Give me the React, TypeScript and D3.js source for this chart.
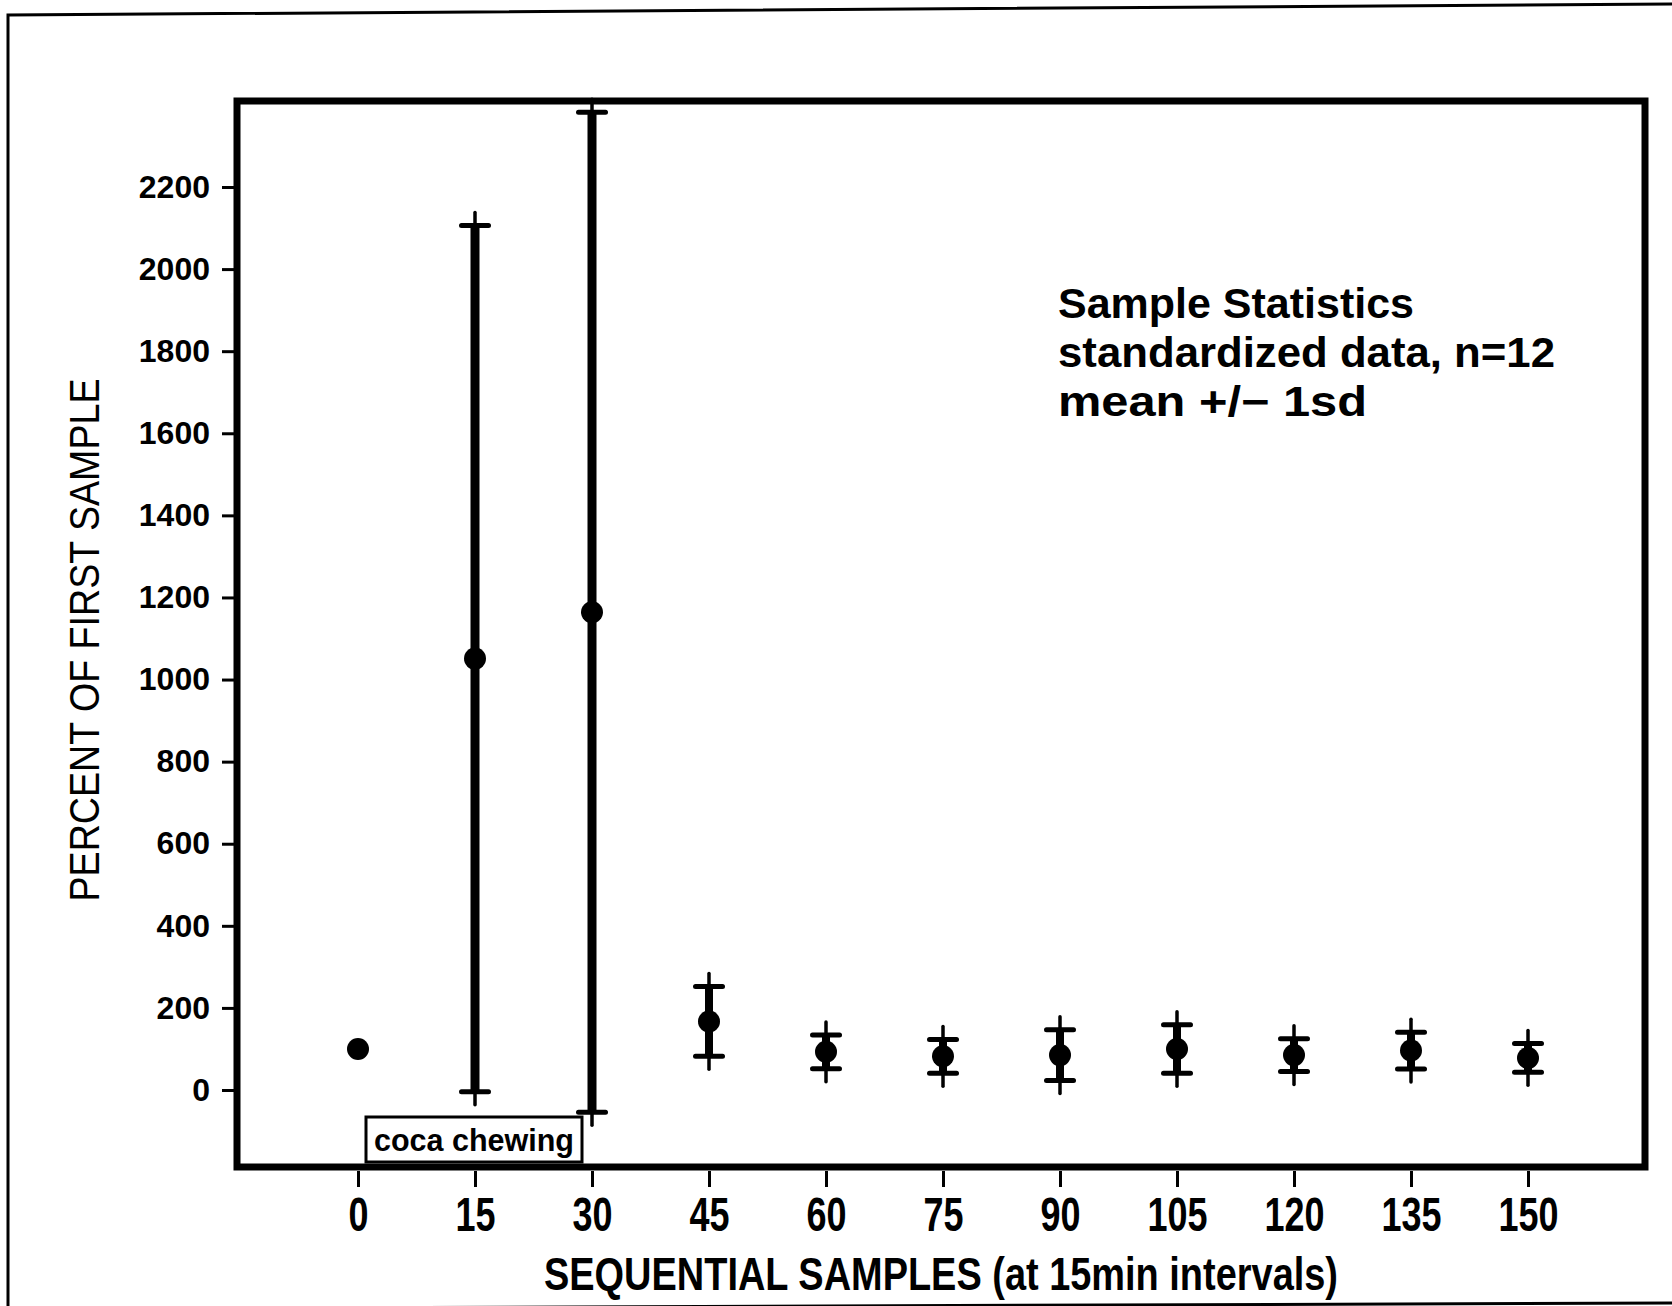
import { useEffect, useRef } from 'react';
import * as d3 from 'd3';

// sequential samples (minutes) and the standardized stats, percent of first sample
const samples = [0, 15, 30, 45, 60, 75, 90, 105, 120, 135, 150];
const means = [100, 1051, 1164, 167, 93, 82, 85, 100, 85, 96, 78];
const sds: (number | null)[] = [null, 1055, 1218, 85, 41, 41, 62, 59, 40, 45, 35];
const yTicks = [0, 200, 400, 600, 800, 1000, 1200, 1400, 1600, 1800, 2000, 2200];
const statLines = ['Sample Statistics', 'standardized data, n=12', 'mean +/\u2212 1sd'];
const statWidths = [356, 497, 309];

const W = 1672;
const H = 1306;
const frame = { left: 237, right: 1645, top: 101, bottom: 1167 };
const FONT = `'Liberation Sans', Arial, sans-serif`;

const App = () => {
    const svgRef = useRef<SVGSVGElement | null>(null);

    useEffect(() => {
        const svg = d3.select(svgRef.current);
        svg.selectAll('*').remove();

        const x = d3.scaleLinear().domain([0, 150]).range([358, 1528]);
        const y = d3.scaleLinear().domain([0, 2200]).range([1090, 187]);

        svg.append('rect').attr('width', W).attr('height', H).attr('fill', 'white');

        // outer page border (slightly skewed like the scan)
        svg.append('path')
            .attr('d', `M8,${H + 4} L8,15 L${W + 2},4`)
            .attr('fill', 'none').attr('stroke', '#000').attr('stroke-width', 3);
        svg.append('path')
            .attr('d', `M8,${H + 3} L${W},1303`)
            .attr('fill', 'none').attr('stroke', '#000').attr('stroke-width', 3);

        // plot frame
        svg.append('rect')
            .attr('x', frame.left).attr('y', frame.top)
            .attr('width', frame.right - frame.left)
            .attr('height', frame.bottom - frame.top)
            .attr('fill', 'none').attr('stroke', '#000').attr('stroke-width', 7);

        // y axis
        const yAxis = svg.append('g')
            .attr('transform', `translate(${frame.left},0)`)
            .call(d3.axisLeft(y).tickValues(yTicks).tickSize(15).tickPadding(12).tickFormat(d3.format('d')));
        yAxis.select('.domain').remove();
        yAxis.selectAll('line').attr('stroke', '#000').attr('stroke-width', 3);
        yAxis.selectAll('text')
            .attr('fill', '#000')
            .attr('font-family', FONT)
            .attr('font-weight', 'bold')
            .attr('font-size', 32);

        // x axis
        const xAxis = svg.append('g')
            .attr('transform', `translate(0,${frame.bottom + 4})`)
            .call(d3.axisBottom(x).tickValues(samples).tickSize(16).tickPadding(10).tickFormat(d3.format('d')));
        xAxis.select('.domain').remove();
        xAxis.selectAll('line').attr('stroke', '#000').attr('stroke-width', 3);
        xAxis.selectAll<SVGTextElement, number>('text')
            .attr('fill', '#000')
            .attr('font-family', FONT)
            .attr('font-weight', 'bold')
            .attr('font-size', 48)
            .attr('dy', '0.71em')
            .attr('textLength', d => String(d).length * 20)
            .attr('lengthAdjust', 'spacingAndGlyphs');

        // axis titles
        svg.append('text')
            .attr('x', 941).attr('y', 1290)
            .attr('text-anchor', 'middle')
            .attr('font-family', FONT).attr('font-weight', 'bold').attr('font-size', 46)
            .attr('textLength', 794).attr('lengthAdjust', 'spacingAndGlyphs')
            .text('SEQUENTIAL SAMPLES (at 15min intervals)');

        svg.append('text')
            .attr('transform', 'translate(99,640) rotate(-90)')
            .attr('text-anchor', 'middle')
            .attr('font-family', FONT).attr('font-size', 42)
            .attr('textLength', 523).attr('lengthAdjust', 'spacingAndGlyphs')
            .text('PERCENT OF FIRST SAMPLE');

        // error bars
        const pts = samples.map((s, i) => ({ s, m: means[i], sd: sds[i] }));
        const bars = svg.append('g').selectAll('g')
            .data(pts.filter(d => d.sd !== null))
            .enter().append('g');

        bars.append('line')
            .attr('x1', d => x(d.s)).attr('x2', d => x(d.s))
            .attr('y1', d => y(d.m + (d.sd as number))).attr('y2', d => y(d.m - (d.sd as number)))
            .attr('stroke', '#000').attr('stroke-width', d => (d.sd as number) > 500 ? 9 : 8);

        [1, -1].forEach(dir => {
            // cap
            bars.append('line')
                .attr('x1', d => x(d.s) - 13.5).attr('x2', d => x(d.s) + 13.5)
                .attr('y1', d => y(d.m + dir * (d.sd as number)))
                .attr('y2', d => y(d.m + dir * (d.sd as number)))
                .attr('stroke', '#000').attr('stroke-width', 5).attr('stroke-linecap', 'round');
            // little stick beyond the cap
            bars.append('line')
                .attr('x1', d => x(d.s)).attr('x2', d => x(d.s))
                .attr('y1', d => y(d.m + dir * (d.sd as number)))
                .attr('y2', d => y(d.m + dir * (d.sd as number)) - dir * 13)
                .attr('stroke', '#000').attr('stroke-width', 3.5).attr('stroke-linecap', 'round');
        });

        // means
        svg.append('g').selectAll('circle')
            .data(pts)
            .enter().append('circle')
            .attr('cx', d => x(d.s)).attr('cy', d => y(d.m))
            .attr('r', 11).attr('fill', '#000');

        // coca chewing label
        svg.append('rect')
            .attr('x', 366).attr('y', 1117).attr('width', 216).attr('height', 45)
            .attr('fill', 'white').attr('stroke', '#000').attr('stroke-width', 3);
        svg.append('text')
            .attr('x', 474).attr('y', 1151)
            .attr('text-anchor', 'middle')
            .attr('font-family', FONT).attr('font-weight', 'bold').attr('font-size', 32)
            .attr('textLength', 200).attr('lengthAdjust', 'spacingAndGlyphs')
            .text('coca chewing');

        // sample statistics note
        svg.append('g').selectAll('text')
            .data(statLines)
            .enter().append('text')
            .attr('x', 1058).attr('y', (_, i) => 318 + i * 49)
            .attr('font-family', FONT).attr('font-weight', 'bold').attr('font-size', 42)
            .attr('textLength', (_, i) => statWidths[i]).attr('lengthAdjust', 'spacingAndGlyphs')
            .text(d => d);
    }, []);

    return (
        <svg
            ref={svgRef}
            width={W}
            height={H}
            style={{ position: 'absolute', left: 0, top: 0, display: 'block' }}
        />
    );
};

export default App;
